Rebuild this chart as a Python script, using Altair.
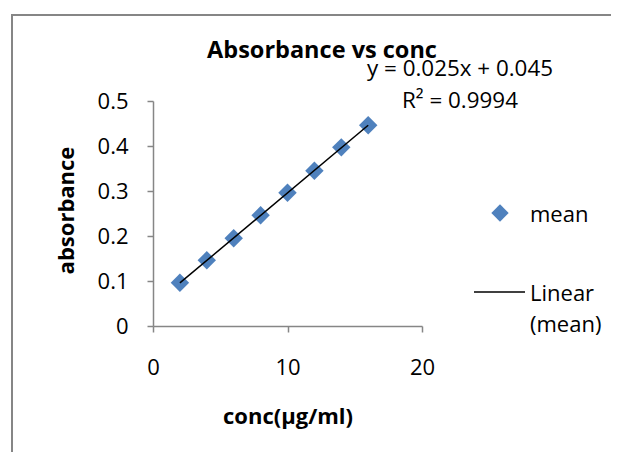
import altair as alt
import pandas as pd

# Data
conc = [2, 4, 6, 8, 10, 12, 14, 16]
absorbance = [0.096, 0.146, 0.195, 0.246, 0.296, 0.345, 0.397, 0.446]
x_ticks = [0, 10, 20]
y_ticks = [0, 0.1, 0.2, 0.3, 0.4, 0.5]

title_text = "Absorbance vs conc"
eq_text = "y = 0.025x + 0.045"
r2_text = "R² = 0.9994"
series_name = "mean"
trend_name_1 = "Linear"
trend_name_2 = "(mean)"

df = pd.DataFrame({"conc": conc, "absorbance": absorbance})

FONT = "Open Sans"
GRAY = "#868686"
BLUE = "#4F81BD"

W, H = 269, 225

x_enc = alt.X(
    "conc:Q",
    scale=alt.Scale(domain=[0, 20], nice=False),
    axis=alt.Axis(
        values=x_ticks, title="conc(µg/ml)", grid=False, labelFlush=False,
        domainColor=GRAY, tickColor=GRAY, tickSize=6, domainWidth=1.5, tickWidth=1.5,
        labelFont=FONT, labelFontSize=22, labelColor="black", labelPadding=25,
        titleFont=FONT, titleFontSize=22, titleFontWeight="bold", titleColor="black",
        titleY=90, titleBaseline="middle",
    ),
)
y_enc = alt.Y(
    "absorbance:Q",
    scale=alt.Scale(domain=[0, 0.5], nice=False),
    axis=alt.Axis(
        values=y_ticks, title="absorbance", grid=False, format="~g", labelFlush=False,
        domainColor=GRAY, tickColor=GRAY, tickSize=6, domainWidth=1.5, tickWidth=1.5,
        labelFont=FONT, labelFontSize=22, labelColor="black", labelPadding=19,
        titleFont=FONT, titleFontSize=22, titleFontWeight="bold", titleColor="black",
        titleX=-87, titleY=109, titleBaseline="middle",
    ),
)

base = alt.Chart(df)

points = base.mark_point(shape="diamond", filled=True, size=340, color=BLUE, opacity=1).encode(
    x=x_enc, y=y_enc
)

trend = base.transform_regression("conc", "absorbance").mark_line(
    color="black", strokeWidth=1.5
).encode(x="conc:Q", y="absorbance:Q")

one = alt.Data(values=[{}])


def label(text, x, y, size=22, weight="normal", align="left"):
    return alt.Chart(one).mark_text(
        text=text, font=FONT, fontSize=size, fontWeight=weight, align=align,
        baseline="alphabetic", color="black",
    ).encode(x=alt.value(x), y=alt.value(y))


border = alt.Chart(one).mark_rect(
    filled=False, stroke=GRAY, strokeWidth=2
).encode(x=alt.value(-141), y=alt.value(-86), x2=alt.value(600), y2=alt.value(600))

title = label(title_text, 169, -43, size=23.5, weight="bold", align="center")
eq = label(eq_text, 214, -25, size=22.4)
r2 = label(r2_text, 249, 7, size=22.4)

leg_diamond = alt.Chart(one).mark_point(
    shape="diamond", filled=True, size=300, color=BLUE, opacity=1
).encode(x=alt.value(347), y=alt.value(112))
leg_mean = label(series_name, 377, 121)
leg_line = alt.Chart(one).mark_rule(color="black", strokeWidth=1.5).encode(
    x=alt.value(321), x2=alt.value(372), y=alt.value(191)
)
leg_lin1 = label(trend_name_1, 377, 200)
leg_lin2 = label(trend_name_2, 377, 231)

chart = alt.layer(
    border, points, trend, title, eq, r2,
    leg_diamond, leg_mean, leg_line, leg_lin1, leg_lin2,
).properties(
    width=W, height=H,
    autosize=alt.AutoSizeParams(type="none"),
    padding={"left": 145, "top": 93, "right": 189, "bottom": 126},
    background="white",
).configure_view(stroke=None)

chart.save("out.html", embed_options={"renderer": "svg", "actions": False})
